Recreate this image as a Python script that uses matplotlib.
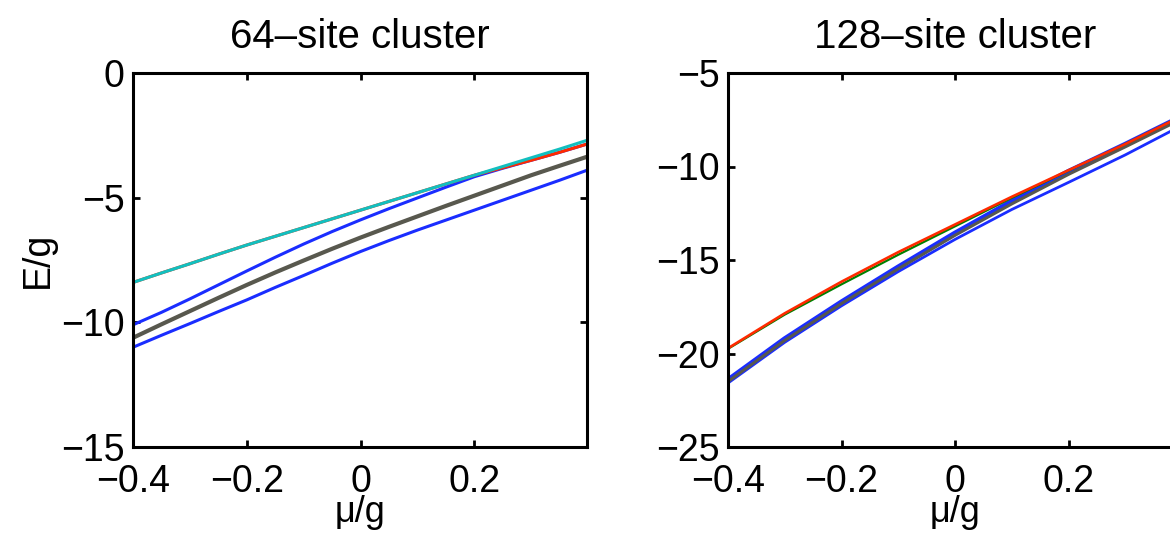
import matplotlib
matplotlib.use('Agg')
import matplotlib.pyplot as plt
import numpy as np

plt.rcParams['font.family'] = ['Liberation Sans', 'DejaVu Sans']

# 64-site cluster
mu64 = [-0.4, -0.35, -0.3, -0.25, -0.2, -0.15, -0.1, -0.05, 0.0, 0.05, 0.1, 0.15, 0.2, 0.25, 0.3, 0.35, 0.398]
cyan64 = [-8.4, -8.02, -7.65, -7.27, -6.9, -6.55, -6.2, -5.85, -5.5, -5.15, -4.8, -4.45, -4.1, -3.75, -3.4, -3.05, -2.7]
red64 = [-8.4, -8.02, -7.65, -7.27, -6.9, -6.55, -6.2, -5.85, -5.5, -5.15, -4.8, -4.45, -4.1, -3.8, -3.5, -3.18, -2.85]
blue64a = [-10.1, -9.6, -9.06, -8.5, -7.94, -7.39, -6.86, -6.36, -5.89, -5.44, -5.01, -4.58, -4.16, -3.82, -3.5, -3.18, -2.85]
gray64 = [-10.62, -10.08, -9.55, -9.02, -8.5, -8.0, -7.52, -7.05, -6.6, -6.17, -5.75, -5.33, -4.92, -4.51, -4.1, -3.72, -3.36]
blue64b = [-11.0, -10.52, -10.05, -9.57, -9.1, -8.6, -8.12, -7.63, -7.16, -6.72, -6.3, -5.9, -5.5, -5.1, -4.7, -4.3, -3.9]

# 128-site cluster
mu128 = [-0.4, -0.3, -0.2, -0.1, 0.0, 0.1, 0.2, 0.3, 0.4]
red128 = [-19.72, -17.85, -16.16, -14.58, -13.1, -11.62, -10.2, -8.8, -7.3]
green128 = [-19.75, -17.92, -16.3, -14.72, -13.2, -11.68, -10.22, -8.8, -7.3]
blue128a = [-21.42, -19.22, -17.25, -15.38, -13.57, -11.87, -10.27, -8.82, -7.32]
gray128 = [-21.5, -19.3, -17.33, -15.47, -13.68, -12.0, -10.42, -8.95, -7.45]
blue128b = [-21.58, -19.4, -17.45, -15.62, -13.9, -12.3, -10.85, -9.38, -7.8]

cyan = '#12bfbf'
red = '#ff2a00'
blue = '#1a2dff'
gray = '#58584e'
green = '#008000'

fig = plt.figure(figsize=(11.7, 5.34), dpi=100)
ax0 = fig.add_axes([133/1170, 1-447/534, 454/1170, 374/534])
ax1 = fig.add_axes([728/1170, 1-447/534, 454/1170, 374/534])

ax0.plot(mu64, blue64b, color=blue, lw=2.2)
ax0.plot(mu64, gray64, color=gray, lw=3.0)
ax0.plot(mu64, blue64a, color=blue, lw=2.2)
ax0.plot(mu64, red64, color=red, lw=2.2)
ax0.plot(mu64, cyan64, color=cyan, lw=2.2)
ax0.set_xlim(-0.4, 0.398)
ax0.set_ylim(-15, 0)
ax0.set_yticks([-15, -10, -5, 0])
ax0.set_title('64–site cluster', fontsize=29, pad=18)
ax0.set_ylabel('E/g', fontsize=27, labelpad=4)

ax1.plot(mu128, blue128b, color=blue, lw=2.0)
ax1.plot(mu128, blue128a, color=blue, lw=3.8)
ax1.plot(mu128, gray128, color=gray, lw=2.2)
ax1.plot(mu128, green128, color=green, lw=1.6)
ax1.plot(mu128, red128, color=red, lw=1.9)
ax1.set_xlim(-0.4, 0.4)
ax1.set_ylim(-25, -5)
ax1.set_yticks([-25, -20, -15, -10, -5])
ax1.set_title('128–site cluster', fontsize=29, pad=18)

for ax in (ax0, ax1):
    ax.set_xticks([-0.4, -0.2, 0, 0.2])
    ax.set_xticklabels(['−0.4', '−0.2', '0', '0.2'])
    ax.set_yticklabels([str(int(t)).replace('-', '−') for t in ax.get_yticks()])
    ax.tick_params(direction='in', length=5, width=2, top=True, right=True,
                   labelsize=27)
    ax.tick_params(axis='x', pad=12)
    ax.tick_params(axis='y', pad=6)
    for s in ax.spines.values():
        s.set_linewidth(2.2)
    ax.set_xlabel('μ/g', fontsize=26, labelpad=-3)

fig.savefig('out.png', dpi=100)
